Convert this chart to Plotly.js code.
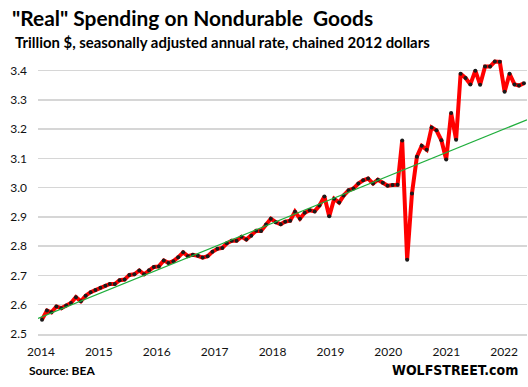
<!DOCTYPE html>
<html>
<head>
<meta charset="utf-8">
<script src="https://cdn.plot.ly/plotly-3.0.1.min.js"></script>
<style>html,body{margin:0;padding:0;background:#fff;}#chart{width:528px;height:387px;}</style>
</head>
<body>
<div id="chart"></div>
<script>
// Monthly data, Jan 2014 .. Apr 2022 (trillion $, SAAR, chained 2012 dollars)
const startYear = 2014;
const spending = [
  2.549, 2.580, 2.574, 2.594, 2.588, 2.597, 2.606, 2.626, 2.612, 2.631, 2.643, 2.650,
  2.658, 2.665, 2.671, 2.671, 2.684, 2.686, 2.702, 2.704, 2.717, 2.704, 2.718, 2.729,
  2.731, 2.751, 2.743, 2.749, 2.762, 2.779, 2.766, 2.771, 2.767, 2.761, 2.766, 2.781,
  2.791, 2.794, 2.810, 2.819, 2.819, 2.832, 2.823, 2.836, 2.853, 2.852, 2.874, 2.894,
  2.882, 2.875, 2.884, 2.887, 2.918, 2.894, 2.914, 2.923, 2.919, 2.939, 2.970, 2.902,
  2.962, 2.949, 2.973, 2.991, 2.997, 3.014, 3.025, 3.031, 3.014, 3.027, 3.017, 3.007,
  3.009, 3.010, 3.161, 2.754, 2.980, 3.106, 3.143, 3.130, 3.206, 3.196, 3.162, 3.096,
  3.255, 3.164, 3.389, 3.375, 3.353, 3.400, 3.352, 3.414, 3.414, 3.431, 3.430, 3.328,
  3.389, 3.353, 3.349, 3.357
];
// Trend line endpoints
const trendDates = ["2013-12-07", "2022-04-20"];
const trendValues = [2.553, 3.232];
const yearLabels = ["2014","2015","2016","2017","2018","2019","2020","2021","2022"];
const yTicks = [2.5, 2.6, 2.7, 2.8, 2.9, 3.0, 3.1, 3.2, 3.3, 3.4];

const months = spending.map((v, i) => {
  const y = startYear + Math.floor(i / 12);
  const m = (i % 12) + 1;
  return y + "-" + String(m).padStart(2, "0") + "-01";
});
// year labels sit slightly left of each January point, as in the original
const tickVals = yearLabels.map((y, k) => {
  const d = new Date(Date.UTC(+y, 0, 1) - (6 + 3.4 * k) * 86400000);
  return d.toISOString().slice(0, 10);
});

const font = "Lato, 'Noto Sans', sans-serif";

const data = [
  {
    x: months, y: spending, type: "scatter", mode: "lines+markers",
    line: {color: "#ff0000", width: 4},
    marker: {color: "#1a1a1a", size: 4},
    hoverinfo: "x+y"
  },
  {
    x: trendDates, y: trendValues, type: "scatter", mode: "lines",
    line: {color: "#1fae3c", width: 1.2},
    hoverinfo: "skip"
  }
];

const layout = {
  width: 528, height: 387,
  margin: {l: 38, r: 1, t: 56, b: 53},
  paper_bgcolor: "#fff", plot_bgcolor: "#fff",
  showlegend: false,
  font: {family: font, color: "#111", size: 12},
  title: {
    text: "<b>\"Real\" Spending on Nondurable  Goods</b>",
    font: {family: font, size: 20.9, color: "#000"},
    x: 12 / 528, xanchor: "left", xref: "container",
    y: 1 - 19 / 387, yanchor: "middle", yref: "container"
  },
  xaxis: {
    type: "date",
    range: ["2013-12-07", "2022-04-20"],
    tickvals: tickVals, ticktext: yearLabels,
    showgrid: false, zeroline: false,
    showline: true, linecolor: "#d6d6d6", linewidth: 1.5,
    ticks: "", ticklabelstandoff: 6,
    tickfont: {family: font, size: 12, color: "#111"},
    fixedrange: true
  },
  yaxis: {
    range: [2.5, 3.45],
    tickvals: yTicks, ticktext: yTicks.map(v => v.toFixed(1)),
    showgrid: true, gridcolor: "#d6d6d6", gridwidth: 1.5,
    zeroline: false, showline: false, ticks: "",
    ticklabelstandoff: 10,
    tickfont: {family: font, size: 12, color: "#111"},
    fixedrange: true
  },
  annotations: [
    {
      text: "<b>Trillion $, seasonally adjusted annual rate, chained 2012 dollars</b>",
      xref: "paper", yref: "paper",
      x: (12.5 - 38) / 489, y: (334 - 42) / 278,
      xanchor: "left", yanchor: "middle", showarrow: false,
      font: {family: font, size: 14.9, color: "#000"}
    },
    {
      text: "<b>Source: BEA</b>",
      xref: "paper", yref: "paper",
      x: (26.5 - 38) / 489, y: (334 - 370) / 278,
      xanchor: "left", yanchor: "middle", showarrow: false,
      font: {family: font, size: 12, color: "#000"}
    },
    {
      text: "<b>WOLFSTREET.com</b>",
      xref: "paper", yref: "paper",
      x: (520 - 38) / 489, y: (334 - 369.5) / 278,
      xanchor: "right", yanchor: "middle", showarrow: false,
      font: {family: "'DejaVu Sans Condensed', 'DejaVu Sans', sans-serif", size: 14, color: "#000"}
    }
  ]
};

Plotly.newPlot("chart", data, layout, {displayModeBar: false, staticPlot: true});
</script>
</body>
</html>
